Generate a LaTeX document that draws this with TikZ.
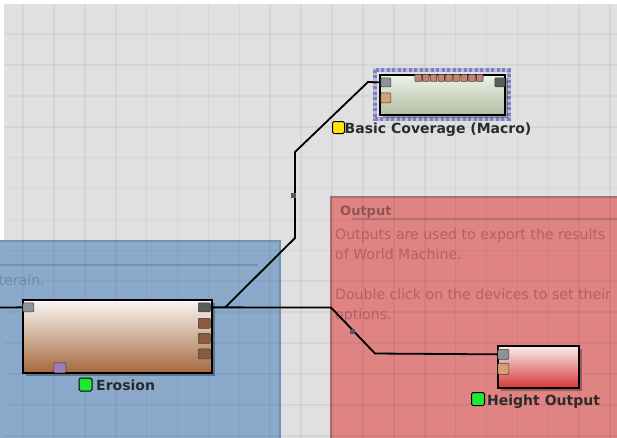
\documentclass[tikz,border=0pt]{standalone}
\usepackage{fontspec}
\setmainfont{DejaVu Sans}
\usetikzlibrary{shadows}
\definecolor{bggray}{HTML}{E0E0E0}
\definecolor{bluefill}{HTML}{8BAACB}
\definecolor{blueedge}{HTML}{7391B2}
\definecolor{bluetext}{HTML}{6F8AA8}
\definecolor{redfill}{HTML}{DF8383}
\definecolor{rededge}{HTML}{A87070}
\definecolor{redtext}{HTML}{B26262}
\definecolor{redtitle}{HTML}{935353}
\definecolor{labeltext}{HTML}{2B2B2B}
\definecolor{statusgreen}{HTML}{1EE832}
\definecolor{statusyellow}{HTML}{FFE600}
\definecolor{portgray}{HTML}{8C9296}
\definecolor{portdark}{HTML}{5A5C58}
\definecolor{portorange}{HTML}{D8A070}
\definecolor{portbrown}{HTML}{8E5A3C}
\definecolor{portsalmon}{HTML}{C88270}
\definecolor{portpurple}{HTML}{9A80B8}
\definecolor{macroA}{HTML}{B8B8E0}
\definecolor{macroB}{HTML}{8080C0}
\begin{document}
\begin{tikzpicture}[x=1pt,y=-1pt,
  device/.style={draw=black, line width=1.8pt, inner sep=0pt, anchor=north west,
     drop shadow={shadow xshift=3pt, shadow yshift=-3pt, opacity=0.3, fill=black}},
  port/.style={draw=black!75, line width=0.7pt, inner sep=0pt, minimum width=10pt, minimum height=9pt, rounded corners=1pt, anchor=north west},
  status/.style={draw=black, line width=1pt, rounded corners=1.5pt, minimum size=12pt, inner sep=0pt, anchor=north west},
  devlabel/.style={font=\bfseries\fontsize{14}{16}\selectfont, text=labeltext, inner sep=0pt, anchor=base west},
  wire/.style={draw=black, line width=1.8pt},
  wiremark/.style={fill=black!65, minimum size=5pt, inner sep=0pt},
  notetext/.style={font=\fontsize{14.1}{17}\selectfont, inner sep=0pt, anchor=base west},
]
\useasboundingbox (0,0) rectangle (617,437);
\begin{scope}
\clip (0,0) rectangle (617,437);
% background
\fill[white] (0,0) rectangle (617,437);
\fill[bggray] (4,4) rectangle (620,440);
% frames
\fill[bluefill] (-5,241) rectangle (280,445);
\draw[blueedge, line width=1.5pt] (-5,241) rectangle (280,445);
\draw[blueedge, line width=1.5pt] (-5,265) -- (258,265);
\fill[redfill] (331,197) rectangle (630,445);
\draw[rededge, line width=1.8pt] (331,197) rectangle (630,445);
\draw[rededge!80!redfill, line width=1.4pt] (352,219) -- (630,219);
% grid
\foreach \i in {0,...,19} {
  \draw[black, opacity=0.045, line width=1.6pt] (23+30.9*\i,4) -- (23+30.9*\i,440);
}
\foreach \j in {0,...,13} {
  \draw[black, opacity=0.045, line width=1.6pt] (4,34+30.9*\j) -- (620,34+30.9*\j);
}
% frame texts
\node[notetext, text=bluetext] (bt) at (-1.5,285) {terain.};
\node[notetext, font=\bfseries\fontsize{13}{15}\selectfont, text=redtitle] (ot) at (340,215) {Output};
\node[notetext, text=redtext] (o1) at (335,239) {Outputs are used to export the results};
\node[notetext, text=redtext] (o2) at (335,259) {of World Machine.};
\node[notetext, text=redtext] (o3) at (335,299) {Double click on the devices to set their};
\node[notetext, text=redtext] (o4) at (335,319) {options.};
\end{scope}

% Basic Coverage (Macro)
\draw[macroA, line width=4pt] (374.5,69.5) rectangle (508.5,119);
\draw[macroB, line width=4pt, dash pattern=on 3pt off 2.5pt] (374.5,69.5) rectangle (508.5,119);
\node[device, minimum width=125pt, minimum height=40pt, top color={rgb,255:red,238;green,242;blue,234}, bottom color={rgb,255:red,178;green,190;blue,162}] (bc) at (379,74) {};
\foreach \k in {0,...,8} {
  \node[port, fill=portsalmon, minimum width=6.5pt, minimum height=7pt, rounded corners=0.5pt] (bct\k) at (414.5+7.7*\k,74) {};
}
\node[port, fill=portgray] (bcin) at (380.5,77.5) {};
\node[port, fill=portorange, minimum height=10pt] (bcin2) at (380.5,92.5) {};
\node[port, fill=portdark] (bcout) at (494.5,77.5) {};
\node[status, fill=statusyellow] (bcs) at (332,121) {};
\node[devlabel] (bcl) at (344.5,133) {Basic Coverage (Macro)};

% Erosion
\node[device, minimum width=189pt, minimum height=73pt, top color={rgb,255:red,250;green,247;blue,244}, middle color={rgb,255:red,214;green,180;blue,152}, bottom color={rgb,255:red,164;green,104;blue,62}] (ero) at (22,299) {};
\node[port, fill=portgray, minimum width=11pt] (eroin) at (22.5,302.5) {};
\node[port, fill=portdark, minimum width=12pt] (eroout) at (198,302.5) {};
\node[port, fill=portbrown, minimum width=12pt, minimum height=10pt] (erop2) at (198,318) {};
\node[port, fill=portbrown, minimum width=12pt, minimum height=10pt] (erop3) at (198,333) {};
\node[port, fill=portbrown, minimum width=12pt, minimum height=10pt] (erop4) at (198,348.5) {};
\node[port, fill=portpurple, minimum width=12pt, minimum height=10pt] (erob) at (53.5,362.5) {};
\node[status, fill=statusgreen, minimum size=13pt] (eros) at (78.5,377.5) {};
\node[devlabel] (erol) at (96,390) {Erosion};

% Height Output
\node[device, minimum width=81pt, minimum height=42pt, top color={rgb,255:red,250;green,238;blue,238}, bottom color={rgb,255:red,214;green,56;blue,56}] (ho) at (497,345) {};
\node[port, fill=portgray, minimum width=11pt, minimum height=10pt] (hoin) at (497.5,349) {};
\node[port, fill=portorange, minimum width=11pt, minimum height=11pt] (hoin2) at (497.5,363) {};
\node[status, fill=statusgreen, minimum size=13pt] (hos) at (471,392) {};
\node[devlabel] (hol) at (487,405) {Height Output};

% wires
\coordinate (lin) at (0,307.5);
\coordinate (k1) at (331,307.5);
\coordinate (k2) at (375,353.5);
\coordinate (k3) at (225,307.5);
\coordinate (k4) at (295,238);
\coordinate (k5) at (295,152);
\coordinate (k6) at (368,82);
\draw[wire] (lin) -- (eroin.west);
\draw[wire] (eroout.east) -- (k1) -- (k2) -- (hoin.west);
\draw[wire] (k3) -- (k4) -- (k5) -- (k6) -- (bcin.west);
\node[wiremark] (m1) at (293.5,195.5) {};
\node[wiremark] (m2) at (352.5,331) {};
\end{tikzpicture}
\end{document}
